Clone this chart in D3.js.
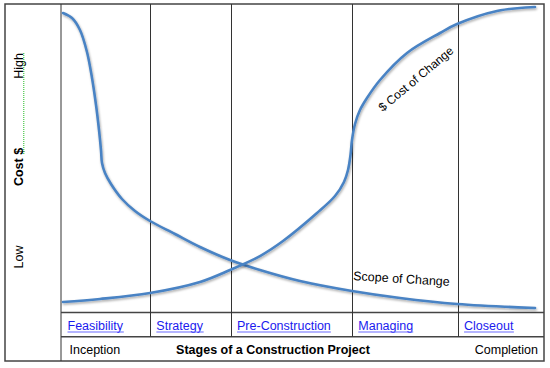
<!DOCTYPE html>
<html><head><meta charset="utf-8">
<script src="https://cdn.jsdelivr.net/npm/d3@7/dist/d3.min.js"></script>
<style>html,body{margin:0;padding:0;background:#fff}svg{display:block}text{font-family:"Liberation Sans",Arial,Helvetica,sans-serif}</style>
</head><body><div id="chart"></div>
<script>
// ---- data ----
const stages = ["Feasibility", "Strategy", "Pre-Construction", "Managing", "Closeout"];
const stageBounds = [0, 18.4, 35.1, 60.2, 82.1, 100]; // project progress %
const scopeX = [0.41, 2.28, 3.93, 5.38, 6.42, 7.25, 7.87, 8.28, 8.49, 9.11, 10.35, 12.63, 15.32, 18.43, 23.6, 28.78, 34.99, 41.2, 49.48, 60.25, 70.19, 82.0, 98.14];
const scopeY = [97.08, 95.46, 91.57, 84.44, 76.01, 67.26, 59.16, 52.67, 48.46, 45.22, 41.65, 36.79, 32.9, 29.66, 25.45, 21.23, 17.02, 13.78, 10.21, 6.97, 4.7, 2.76, 1.46];
const costX = [0.41, 8.07, 18.43, 28.78, 34.99, 41.2, 45.96, 53.0, 56.73, 58.59, 59.42, 59.94, 60.25, 60.87, 61.9, 63.35, 66.05, 71.64, 78.47, 81.99, 90.27, 98.14];
const costY = [3.4, 4.38, 6.32, 9.89, 13.78, 18.31, 23.18, 32.25, 37.76, 42.3, 46.19, 51.05, 55.92, 61.1, 65.64, 69.53, 75.36, 84.12, 90.6, 93.5, 97.73, 99.03];
const yLabels = ["Low", "Cost $", "High"];
const bottomLabels = ["Inception", "Stages of a Construction Project", "Completion"];
const curveLabels = ["$ Cost of Change", "Scope of Change"];

// ---- layout ----
const W = 550, H = 368;
const L = 5, R = 544, T = 4, B = 361, PL = 61, row1 = 312.5, row2 = 336.7;
const svg = d3.select("#chart").append("svg").attr("width", W).attr("height", H);
svg.append("rect").attr("width", W).attr("height", H).attr("fill", "#fff");

const defs = svg.append("defs");
const f = defs.append("filter").attr("id", "sh").attr("x", "-10%").attr("y", "-10%").attr("width", "130%").attr("height", "130%");
f.append("feDropShadow").attr("dx", 0.8).attr("dy", 1.5).attr("stdDeviation", 1).attr("flood-color", "#000").attr("flood-opacity", 0.35);

const x = d3.scaleLinear().domain([0, 100]).range([PL, R]);
const y = d3.scaleLinear().domain([0, 100]).range([row1, T]);

const lineCol = "#333";
svg.append("rect").attr("x", L).attr("y", T).attr("width", R - L).attr("height", B - T)
  .attr("fill", "none").attr("stroke", "#444").attr("stroke-width", 1.5);
svg.append("line").attr("x1", PL).attr("x2", PL).attr("y1", T).attr("y2", B).attr("stroke", lineCol).attr("stroke-width", 1);
[row1, row2].forEach(v => svg.append("line").attr("x1", PL).attr("x2", R).attr("y1", v).attr("y2", v).attr("stroke", "#444").attr("stroke-width", 1.5));
svg.selectAll("line.div").data(stageBounds.slice(1, -1)).enter().append("line").attr("class", "div")
  .attr("x1", d => Math.round(x(d)) + 0.5).attr("x2", d => Math.round(x(d)) + 0.5)
  .attr("y1", T).attr("y2", row2).attr("stroke", lineCol).attr("stroke-width", 1);

// curves
const line = d3.line().x(d => x(d[0])).y(d => y(d[1])).curve(d3.curveCatmullRom.alpha(0.5));
const blue = "#4a83c4";
[d3.zip(scopeX, scopeY), d3.zip(costX, costY)].forEach(pts => {
  svg.append("path").attr("d", line(pts)).attr("fill", "none").attr("stroke", blue)
    .attr("stroke-width", 2.6).attr("stroke-linecap", "round").attr("filter", "url(#sh)");
});

// stage labels (links)
const fs = 12.5;
const sl = svg.selectAll("g.stage").data(stages).enter().append("g").attr("class", "stage");
sl.append("text").attr("x", (d, i) => x(stageBounds[i]) + 6.5).attr("y", 329.5)
  .attr("font-size", fs).attr("fill", "#1a1aee").text(d => d)
  .each(function () {
    const bb = this.getBBox();
    d3.select(this.parentNode).append("line").attr("x1", bb.x).attr("x2", bb.x + bb.width)
      .attr("y1", 332).attr("y2", 332).attr("stroke", "#6b6bff").attr("stroke-width", 1.2);
  });

// bottom row
svg.append("text").attr("x", 69.5).attr("y", 354).attr("font-size", fs).attr("fill", "#000").text(bottomLabels[0]);
svg.append("text").attr("x", 273).attr("y", 354).attr("font-size", fs).attr("font-weight", "bold").attr("text-anchor", "middle").text(bottomLabels[1]);
svg.append("text").attr("x", 538).attr("y", 354).attr("font-size", fs).attr("text-anchor", "end").text(bottomLabels[2]);

// y labels (rotated)
const yl = [[257, "normal"], [167, "bold"], [66, "normal"]];
yLabels.forEach((t, i) => {
  svg.append("text").attr("transform", `translate(22.5,${yl[i][0]}) rotate(-90)`)
    .attr("text-anchor", "middle").attr("font-size", fs).attr("font-weight", yl[i][1]).text(t);
});
svg.append("line").attr("x1", 23.8).attr("x2", 23.8).attr("y1", 53).attr("y2", 155)
  .attr("stroke", "#22bb22").attr("stroke-width", 1).attr("stroke-dasharray", "1,1");

// curve labels
svg.append("text").attr("transform", "translate(416,79) rotate(-40)").attr("text-anchor", "middle")
  .attr("dominant-baseline", "central").attr("font-size", 12).text(curveLabels[0]);
svg.append("text").attr("transform", "translate(401.5,279) rotate(3.5)").attr("text-anchor", "middle")
  .attr("dominant-baseline", "central").attr("font-size", fs).text(curveLabels[1]);
</script></body></html>
